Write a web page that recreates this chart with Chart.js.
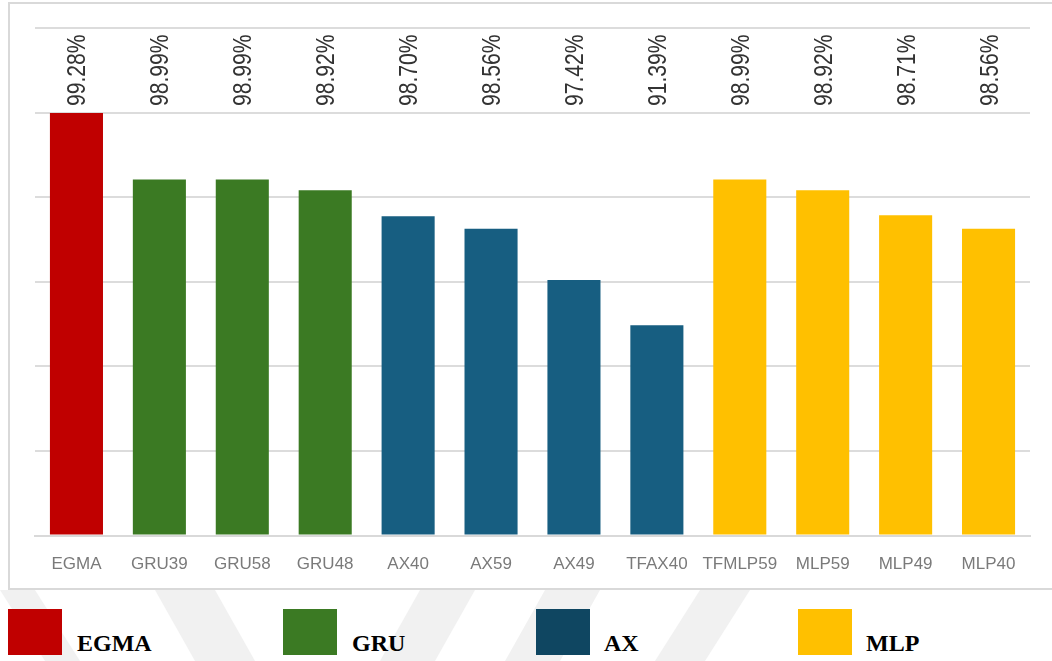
<!DOCTYPE html>
<html>
<head>
<meta charset="utf-8">
<script src="https://cdn.jsdelivr.net/npm/chart.js@4.4.1/dist/chart.umd.min.js"></script>
<style>
  html, body { margin: 0; padding: 0; }
  body { width: 1052px; height: 661px; overflow: hidden; background: #fff; position: relative; }
  .mark { position: absolute; left: 0; top: 0; }
  .frame { position: absolute; left: 8px; top: 2px; width: 1060px; height: 584px; border: 2px solid #d9d9d9; background: #fff; }
  .frame canvas { position: absolute; left: 0; top: 0; }
  .swatch { position: absolute; top: 609px; width: 54px; height: 46px; }
  .name { position: absolute; top: 630px; line-height: 24px; font: bold 24px "Liberation Serif", "Times New Roman", serif; color: #000; }
</style>
</head>
<body>
<svg class="mark" width="1052" height="661">
  <g fill="#f1f1f1">
    <polygon points="0,590 35,590 80,661 45,661"/>
    <polygon points="155,590 215,590 255,661 195,661"/>
    <polygon points="420,590 475,590 435,661 380,661"/>
    <polygon points="545,590 600,590 560,661 505,661"/>
    <polygon points="700,590 750,590 705,661 655,661"/>
  </g>
</svg>
<div class="frame"><canvas id="accChart" width="1042" height="582"></canvas></div>
<div id="legend"></div>
<script>
const categories = ['EGMA', 'GRU39', 'GRU58', 'GRU48', 'AX40', 'AX59', 'AX49', 'TFAX40', 'TFMLP59', 'MLP59', 'MLP49', 'MLP40'];
const accuracy = [99.28, 98.99, 98.99, 98.92, 98.70, 98.56, 97.42, 91.39, 98.99, 98.92, 98.71, 98.56];
const family = ['EGMA', 'GRU', 'GRU', 'GRU', 'AX', 'AX', 'AX', 'AX', 'MLP', 'MLP', 'MLP', 'MLP'];
const familyNames = ['EGMA', 'GRU', 'AX', 'MLP'];

const barColors = { EGMA: '#c00000', GRU: '#3b7a23', AX: '#175e81', MLP: '#ffc000' };
const swatchColors = { EGMA: '#c00000', GRU: '#3b7a23', AX: '#0f4661', MLP: '#ffc000' };

// value axis is linear in 1 / (100 - accuracy), so the gaps near 100% open up
class InverseErrorScale extends Chart.LinearScale {
  static id = 'inverseError';

  unit(v) {
    return 1 / (100 - v);
  }
  buildTicks() {
    const ticks = [];
    for (let i = 0; i <= this.options.steps; i++) ticks.push({ value: i });
    return ticks;
  }
  getPixelForTick(i) {
    return this.getPixelForDecimal(i / (this.ticks.length - 1));
  }
  getPixelForValue(v) {
    const { floor, ceil } = this.options;
    if (v <= 0) return this.getPixelForDecimal(0);
    return this.getPixelForDecimal((this.unit(v) - floor) / (ceil - floor));
  }
  getValueForPixel(px) {
    const { floor, ceil } = this.options;
    return 100 - 1 / (floor + this.getDecimalForPixel(px) * (ceil - floor));
  }
}
Chart.register(InverseErrorScale);

// rotated percentage labels in a row along the top of the plot
const valueLabels = {
  id: 'valueLabels',
  afterDatasetsDraw(chart) {
    const { ctx, chartArea } = chart;
    const meta = chart.getDatasetMeta(0);
    ctx.save();
    ctx.font = '25px "Liberation Sans", Arial, sans-serif';
    ctx.fillStyle = '#333';
    ctx.textAlign = 'left';
    ctx.textBaseline = 'alphabetic';
    meta.data.forEach((bar, i) => {
      ctx.save();
      ctx.translate(bar.x + 9, chartArea.top + 78);
      ctx.rotate(-Math.PI / 2);
      ctx.scale(0.845, 1);
      ctx.fillText(accuracy[i].toFixed(2) + '%', 0, 0);
      ctx.restore();
    });
    ctx.restore();
  }
};

new Chart(document.getElementById('accChart'), {
  type: 'bar',
  data: {
    labels: categories,
    datasets: [{
      data: accuracy,
      backgroundColor: family.map(f => barColors[f]),
      categoryPercentage: 0.8,
      barPercentage: 0.8
    }]
  },
  options: {
    responsive: false,
    animation: false,
    layout: { padding: { top: 24, left: 25, right: 22, bottom: 0 } },
    plugins: { legend: { display: false }, tooltip: { enabled: false } },
    scales: {
      x: {
        grid: { display: false },
        border: { display: true, color: '#d9d9d9', width: 2 },
        ticks: { color: '#7a7a7a', padding: 11, font: { family: '"Liberation Sans", Arial, sans-serif', size: 17 } }
      },
      y: {
        type: 'inverseError',
        min: 0,
        max: 99.5,
        floor: -1.145,
        ceil: 1.898,
        steps: 6,
        ticks: { display: false },
        grid: { color: '#dcdcdc', lineWidth: 2, drawTicks: false },
        border: { display: false }
      }
    }
  },
  plugins: [valueLabels]
});

// group legend below the frame
const swatchLeft = [8, 283, 536, 798];
const nameLeft = [77, 352, 604, 866];
const legend = document.getElementById('legend');
familyNames.forEach((name, i) => {
  const sw = document.createElement('div');
  sw.className = 'swatch';
  sw.style.left = swatchLeft[i] + 'px';
  sw.style.background = swatchColors[name];
  legend.appendChild(sw);
  const label = document.createElement('div');
  label.className = 'name';
  label.style.left = nameLeft[i] + 'px';
  label.textContent = name;
  legend.appendChild(label);
});
</script>
</body>
</html>
